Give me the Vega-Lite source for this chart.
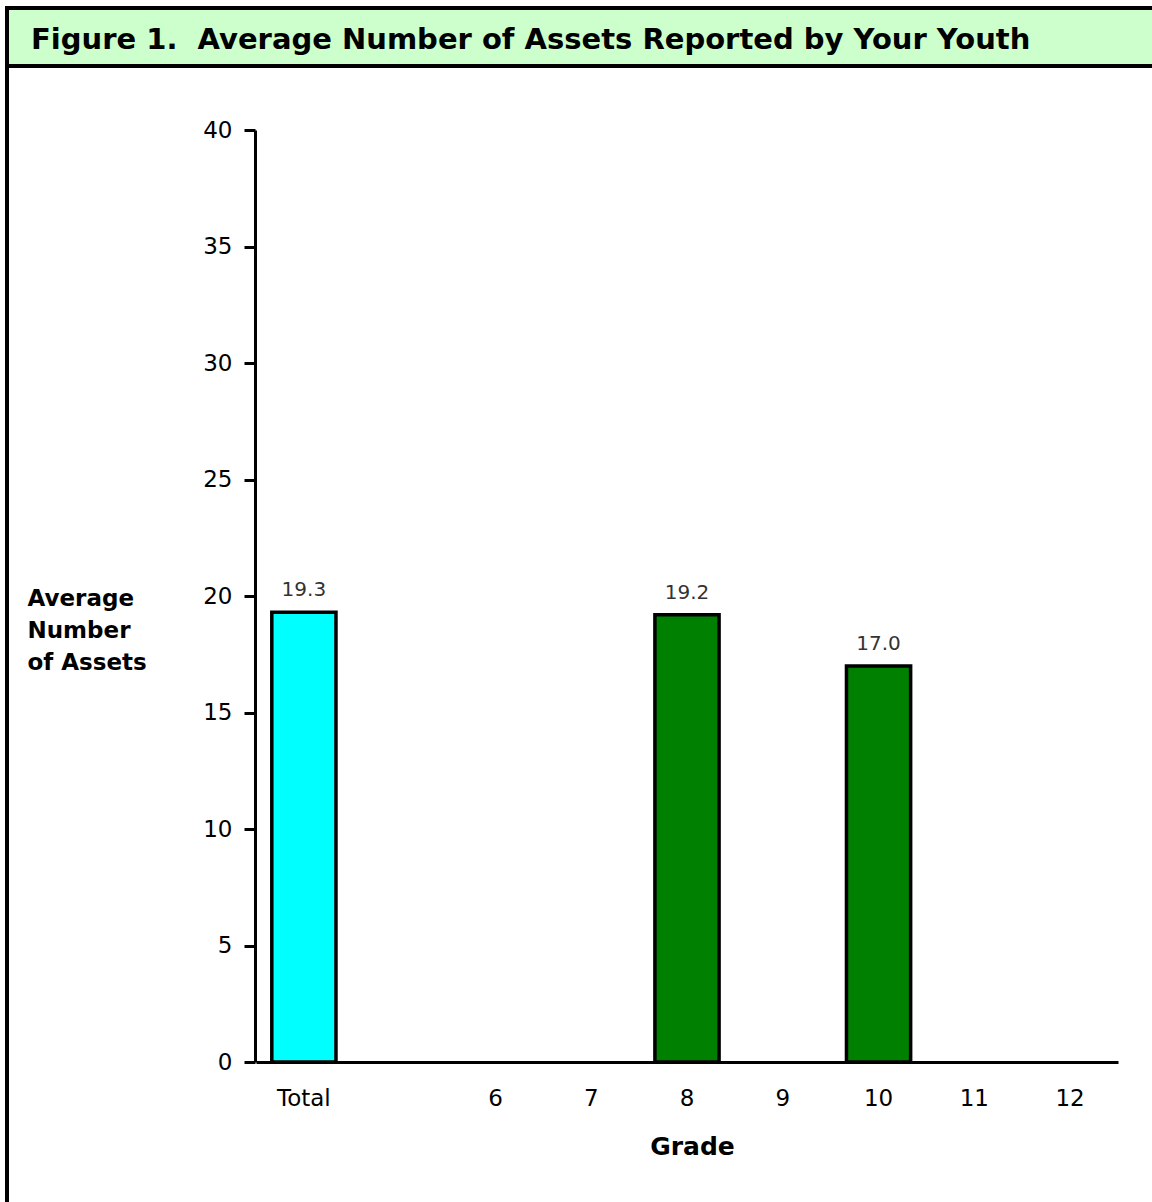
{
  "$schema": "https://vega.github.io/schema/vega-lite/v6.json",
  "padding": {"left": 5, "top": 6, "right": -7, "bottom": -6},
  "autosize": {"type": "pad"},
  "bounds": "flush",
  "spacing": 0,
  "background": "white",
  "config": {"font": "DejaVu Sans"},
  "vconcat": [
    {
      "width": 1150,
      "height": 58,
      "view": {"fill": "#ccffcc", "stroke": "black", "strokeWidth": 4},
      "data": {"values": [{"title": "Figure 1.\u00a0 Average Number of Assets Reported by Your Youth"}]},
      "mark": {"type": "text", "align": "left", "baseline": "middle", "dx": -551, "dy": 3, "font": "DejaVu Sans", "fontSize": 29, "fontWeight": "bold", "color": "black"},
      "encoding": {"text": {"field": "title"}}
    },
    {
      "width": 1150,
      "height": 1140,
      "view": {"fill": "white", "stroke": "black", "strokeWidth": 4},
      "data": {"values": [
        {"grade": "Total", "group": "Total", "assets": 19.3},
        {"grade": "8", "group": "Grade", "assets": 19.2},
        {"grade": "10", "group": "Grade", "assets": 17.0}
      ]},
      "encoding": {
        "x": {
          "field": "grade", "type": "nominal", "sort": null,
          "scale": {"domain": ["Total", " ", "6", "7", "8", "9", "10", "11", "12"], "range": [249, 1111], "paddingInner": 0.33, "paddingOuter": 0.165},
          "axis": {
            "title": "Grade", "offset": -144, "ticks": false, "tickSize": 0,
            "domainColor": "black", "domainWidth": 3,
            "labelFontSize": 23, "labelColor": "black", "labelAngle": 0, "labelPadding": 25, "labelFont": "DejaVu Sans", "labelDx": -3,
            "titleFontSize": 25, "titleFontWeight": "bold", "titleColor": "black", "titleX": 685, "titleY": 84, "titleBaseline": "middle", "titleFont": "DejaVu Sans"
          }
        },
        "y": {
          "field": "assets", "type": "quantitative",
          "scale": {"domain": [0, 40], "range": [996, 64], "nice": false, "zero": true},
          "axis": {
            "title": ["Average", "Number", "of Assets"], "offset": -248,
            "values": [0, 5, 10, 15, 20, 25, 30, 35, 40],
            "tickSize": 11, "tickWidth": 3, "tickColor": "black",
            "domainColor": "black", "domainWidth": 3, "grid": false,
            "labelFontSize": 23, "labelColor": "black", "labelPadding": 12, "labelFont": "DejaVu Sans",
            "titleAngle": 0, "titleAlign": "left", "titleBaseline": "middle",
            "titleX": -228, "titleY": 532, "titleFontSize": 23, "titleFontWeight": "bold",
            "titleLineHeight": 32, "titleColor": "black", "titleFont": "DejaVu Sans"
          }
        }
      },
      "layer": [
        {
          "mark": {"type": "bar", "stroke": "black", "strokeWidth": 3.5},
          "encoding": {"color": {"field": "group", "type": "nominal", "scale": {"domain": ["Total", "Grade"], "range": ["#00ffff", "#008000"]}, "legend": null}}
        },
        {
          "mark": {"type": "text", "baseline": "bottom", "dy": -12, "fontSize": 20, "font": "DejaVu Sans", "color": "#333333"},
          "encoding": {"text": {"field": "assets", "type": "quantitative", "format": ".1f"}}
        }
      ]
    }
  ]
}
